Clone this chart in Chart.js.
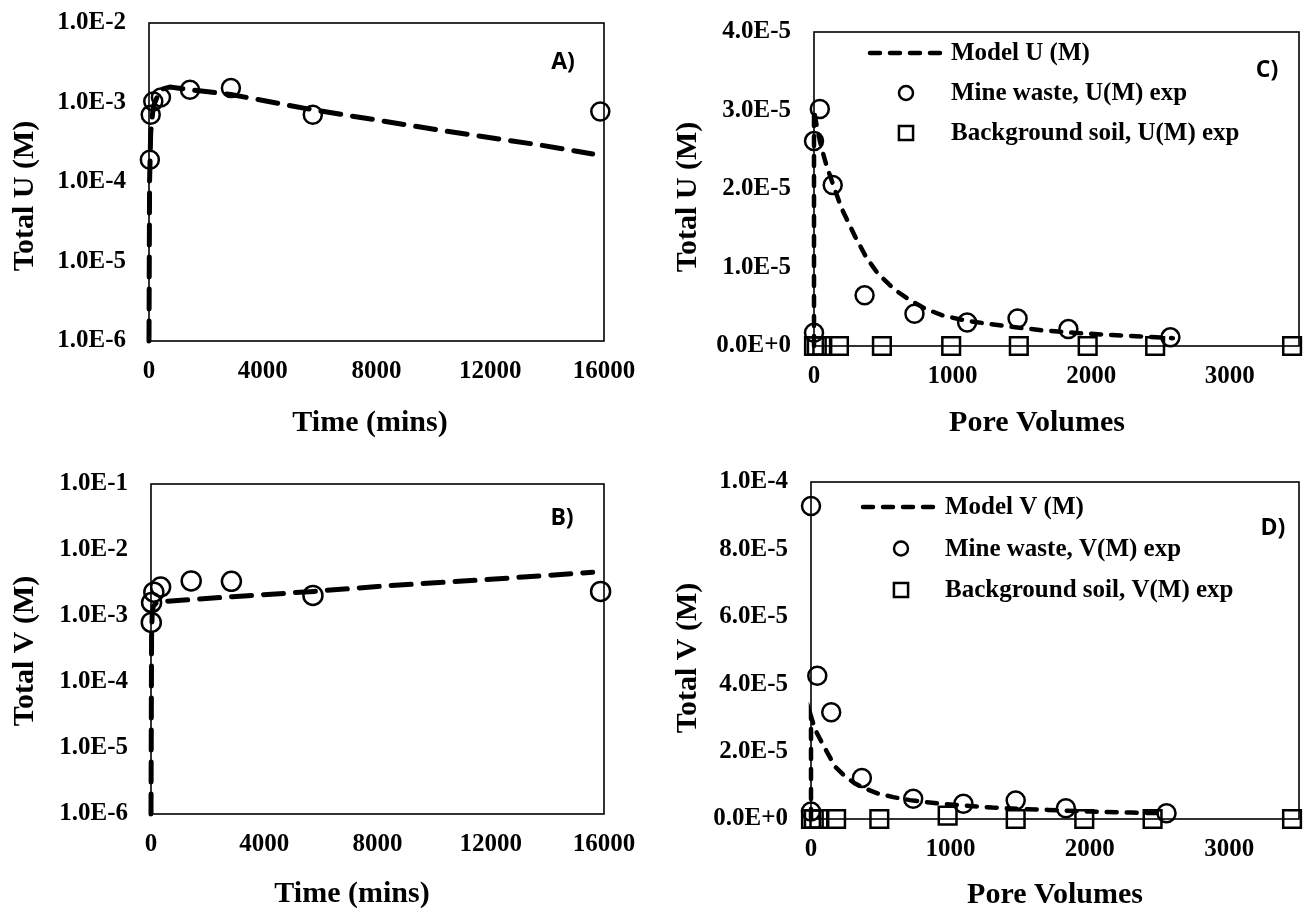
<!DOCTYPE html>
<html><head><meta charset="utf-8">
<script src="https://cdn.jsdelivr.net/npm/chart.js@4.4.1/dist/chart.umd.min.js"></script>
<style>
html,body{margin:0;padding:0;background:#fff;}
#wrap{position:relative;width:1314px;height:908px;overflow:hidden;background:#fff;}
canvas{position:absolute;}
</style></head><body>
<div id="wrap">
<canvas id="cA" width="657" height="454" style="left:0;top:0"></canvas>
<canvas id="cB" width="657" height="454" style="left:0;top:454px"></canvas>
<canvas id="cC" width="657" height="454" style="left:657px;top:0"></canvas>
<canvas id="cD" width="657" height="454" style="left:657px;top:454px"></canvas>
</div>
<script>
// ---------- Panel A: Total U vs time ----------
const aTimeTicks = [0, 4000, 8000, 12000, 16000];
const aYTicks = [1e-6, 1e-5, 1e-4, 1e-3, 1e-2];
const aModelTime = [0, 20, 60, 150, 390, 740, 1440, 2880, 5760, 10200, 13800, 15600];
const aModelU = [1e-6, 1.0e-4, 4.2e-4, 8.9e-4, 1.45e-3, 1.57e-3, 1.45e-3, 1.26e-3, 8.1e-4, 4.5e-4, 2.9e-4, 2.25e-4];
const aExpTime = [30, 60, 150, 420, 1440, 2880, 5760, 15870];
const aExpU = [1.9e-4, 7.0e-4, 1.03e-3, 1.16e-3, 1.45e-3, 1.52e-3, 7.0e-4, 7.7e-4];

// ---------- Panel B: Total V vs time ----------
const bTimeTicks = [0, 4000, 8000, 12000, 16000];
const bYTicks = [1e-6, 1e-5, 1e-4, 1e-3, 1e-2, 1e-1];
const bModelTime = [0, 20, 40, 80, 200, 435, 2880, 5760, 8000, 12000, 15600];
const bModelV = [1e-6, 5.0e-4, 1.0e-3, 1.4e-3, 1.6e-3, 1.66e-3, 1.96e-3, 2.36e-3, 2.8e-3, 3.6e-3, 4.6e-3];
const bExpTime = [10, 20, 100, 340, 1420, 2840, 5720, 15880];
const bExpV = [8.0e-4, 1.6e-3, 2.3e-3, 2.75e-3, 3.4e-3, 3.35e-3, 2.05e-3, 2.36e-3];

// ---------- Panel C: Total U vs pore volumes ----------
const cPVTicks = [0, 1000, 2000, 3000];
const cYTicks = [0, 1e-5, 2e-5, 3e-5, 4e-5];
const cModelPV = [0, 0, 20, 50, 90, 135, 200, 298, 380, 462, 580, 695, 810, 929, 1050, 1162, 1400, 1650, 1900, 2150, 2380, 2590];
const cModelU = [0, 3.0e-5, 2.8e-5, 2.55e-5, 2.3e-5, 2.07e-5, 1.75e-5, 1.39e-5, 1.12e-5, 9.2e-6, 7.2e-6, 5.8e-6, 4.7e-6, 3.9e-6, 3.4e-6, 3.06e-6, 2.5e-6, 2.0e-6, 1.65e-6, 1.4e-6, 1.2e-6, 1.0e-6];
const cMinePV = [0, 0, 42, 135, 365, 725, 1105, 1469, 1836, 2572];
const cMineU = [1.7e-6, 2.61e-5, 3.02e-5, 2.05e-5, 6.45e-6, 4.1e-6, 3.0e-6, 3.5e-6, 2.15e-6, 1.1e-6];
const cSoilPV = [0, 20, 60, 180, 490, 990, 1478, 1975, 2462, 3450];
const cSoilU = [0, 0, 0, 0, 0, 0, 0, 0, 0, 0];

// ---------- Panel D: Total V vs pore volumes ----------
const dPVTicks = [0, 1000, 2000, 3000];
const dYTicks = [0, 2e-5, 4e-5, 6e-5, 8e-5, 1e-4];
const dModelPV = [0, 0, 30, 80, 173, 240, 313, 390, 476, 590, 709, 820, 943, 1100, 1300, 1500, 1700, 2000, 2300, 2550];
const dModelV = [0, 3.05e-5, 2.65e-5, 2.25e-5, 1.55e-5, 1.28e-5, 1.06e-5, 9.0e-6, 7.6e-6, 6.5e-6, 5.6e-6, 5.0e-6, 4.5e-6, 4.0e-6, 3.4e-6, 3.0e-6, 2.7e-6, 2.2e-6, 1.9e-6, 1.7e-6];
const dMinePV = [0, 0, 45, 145, 365, 733, 1093, 1468, 1828, 2550];
const dMineV = [2.2e-6, 9.29e-5, 4.25e-5, 3.17e-5, 1.22e-5, 6.0e-6, 4.5e-6, 5.5e-6, 3.2e-6, 1.7e-6];
const dSoilPV = [0, 20, 60, 180, 490, 980, 1468, 1960, 2450, 3450];
const dSoilV = [0, 0, 0, 0, 0, 1.0e-6, 0, 0, 0, 0];

// ---------- helpers ----------
const SERIF = '"Liberation Serif", "Times New Roman", serif';
const pts = (xs, ys) => xs.map((x, i) => ({x: x, y: ys[i]}));
const sci = v => Number(v).toExponential(1).toUpperCase();

const deco = {
  id: 'deco',
  beforeDatasetsDraw(chart) {
    const {ctx, chartArea: a} = chart;
    ctx.save();
    ctx.strokeStyle = '#000';
    ctx.lineWidth = 1.6;
    ctx.strokeRect(a.left, a.top, a.right - a.left, a.bottom - a.top);
    ctx.restore();
  },
  afterDraw(chart, args, o) {
    const ctx = chart.ctx;
    ctx.save();
    ctx.fillStyle = '#000';
    ctx.textAlign = 'center';
    ctx.textBaseline = 'middle';
    ctx.font = 'bold 30px ' + SERIF;
    ctx.save();
    ctx.translate(o.yTitle.x, o.yTitle.y);
    ctx.rotate(-Math.PI / 2);
    ctx.fillText(o.yTitle.text, 0, 0);
    ctx.restore();
    ctx.fillText(o.xTitle.text, o.xTitle.x, o.xTitle.y);
    ctx.font = 'bold 23px "Open Sans", "Liberation Sans", sans-serif';
    ctx.fillText(o.letter.text, o.letter.x, o.letter.y);
    if (o.legend) {
      const L = o.legend;
      ctx.font = 'bold 25px ' + SERIF;
      ctx.textAlign = 'left';
      L.rows.forEach((r, i) => {
        const ds = chart.data.datasets[r.ds];
        const y = L.y0 + i * L.dy;
        if (r.kind === 'line') {
          ctx.save();
          ctx.strokeStyle = ds.borderColor;
          ctx.lineWidth = ds.borderWidth;
          ctx.lineCap = ds.borderCapStyle || 'butt';
          ctx.setLineDash(ds.borderDash || []);
          ctx.beginPath();
          ctx.moveTo(L.lineX0, y);
          ctx.lineTo(L.lineX1, y);
          ctx.stroke();
          ctx.restore();
        } else {
          ctx.save();
          ctx.strokeStyle = ds.pointBorderColor;
          ctx.fillStyle = 'rgba(0,0,0,0)';
          ctx.lineWidth = ds.pointBorderWidth;
          const opts = {pointStyle: ds.pointStyle, radius: r.radius, borderWidth: ds.pointBorderWidth, rotation: 0};
          if (Chart.helpers && Chart.helpers.drawPoint) {
            Chart.helpers.drawPoint(ctx, opts, L.markX, y);
          } else {
            ctx.beginPath();
            if (ds.pointStyle === 'rect') { const h = r.radius * Math.SQRT1_2; ctx.rect(L.markX - h, y - h, 2 * h, 2 * h); }
            else ctx.arc(L.markX, y, r.radius, 0, Math.PI * 2);
            ctx.stroke();
          }
          ctx.restore();
        }
        ctx.fillStyle = '#000';
        ctx.fillText(ds.label, L.textX, y + 1);
      });
    }
    ctx.restore();
  }
};

function lineDs(label, data, width, dash) {
  return {label: label, data: data, showLine: true, borderColor: '#000', borderWidth: width,
    borderDash: dash, borderCapStyle: 'round', pointRadius: 0, tension: 0, clip: false, fill: false};
}
function markDs(label, data, style, radius) {
  return {label: label, data: data, showLine: false, pointStyle: style, pointRadius: radius,
    pointBorderWidth: 2.5, pointBorderColor: '#000', pointBackgroundColor: 'rgba(0,0,0,0)',
    borderColor: '#000', backgroundColor: 'rgba(0,0,0,0)', clip: false};
}

function makeChart(id, cfg) {
  const tickFont = {family: SERIF, size: 25, weight: 'bold'};
  new Chart(document.getElementById(id), {
    type: 'scatter',
    data: {datasets: cfg.datasets},
    plugins: [deco],
    options: {
      responsive: false,
      animation: false,
      devicePixelRatio: 1,
      events: [],
      layout: {padding: cfg.padding},
      plugins: {legend: {display: false}, tooltip: {enabled: false}, deco: cfg.deco},
      scales: {
        x: {
          type: 'linear', min: cfg.xMin, max: cfg.xMax,
          afterBuildTicks: s => { s.ticks = cfg.xTicks.map(v => ({value: v})); },
          afterFit: s => { s.height = cfg.xHeight; s.paddingLeft = 0; s.paddingRight = 0; },
          grid: {display: false, drawTicks: false}, border: {display: false},
          ticks: {padding: cfg.xPad, maxRotation: 0, minRotation: 0, autoSkip: false, color: '#000', font: tickFont,
            callback: v => String(v)}
        },
        y: {
          type: cfg.yType, min: cfg.yMin, max: cfg.yMax,
          afterBuildTicks: s => { s.ticks = cfg.yTicks.map(v => ({value: v})); },
          afterFit: s => { s.width = cfg.yWidth; s.paddingTop = 0; s.paddingBottom = 0; },
          grid: {display: false, drawTicks: false}, border: {display: false},
          ticks: {padding: 23, autoSkip: false, color: '#000', font: tickFont, callback: v => sci(v)}
        }
      }
    }
  });
}

makeChart('cA', {
  datasets: [
    lineDs('Model U (M)', pts(aModelTime, aModelU), 5, [20, 12]),
    markDs('Mine waste, U(M) exp', pts(aExpTime, aExpU), 'circle', 9)
  ],
  padding: {left: 0, top: 23, right: 53, bottom: 0},
  xMin: 0, xMax: 16000, xTicks: aTimeTicks, xHeight: 113, xPad: 16,
  yType: 'logarithmic', yMin: 1e-6, yMax: 1e-2, yTicks: aYTicks, yWidth: 149,
  deco: {yTitle: {text: 'Total U (M)', x: 25, y: 196}, xTitle: {text: 'Time (mins)', x: 370, y: 423},
         letter: {text: 'A)', x: 563, y: 62}}
});

makeChart('cB', {
  datasets: [
    lineDs('Model V (M)', pts(bModelTime, bModelV), 5, [20, 12]),
    markDs('Mine waste, V(M) exp', pts(bExpTime, bExpV), 'circle', 9.5)
  ],
  padding: {left: 0, top: 30, right: 53, bottom: 0},
  xMin: 0, xMax: 16000, xTicks: bTimeTicks, xHeight: 94, xPad: 16,
  yType: 'logarithmic', yMin: 1e-6, yMax: 1e-1, yTicks: bYTicks, yWidth: 151,
  deco: {yTitle: {text: 'Total V (M)', x: 25, y: 197}, xTitle: {text: 'Time (mins)', x: 352, y: 440},
         letter: {text: 'B)', x: 562, y: 64}}
});

makeChart('cC', {
  datasets: [
    lineDs('Model U (M)', pts(cModelPV, cModelU), 4.5, [10, 10]),
    markDs('Mine waste, U(M) exp', pts(cMinePV, cMineU), 'circle', 9),
    markDs('Background soil, U(M) exp', pts(cSoilPV, cSoilU), 'rect', 12.5)
  ],
  padding: {left: 0, top: 32, right: 1, bottom: 0},
  xMin: 0, xMax: 3500, xTicks: cPVTicks, xHeight: 108, xPad: 16,
  yType: 'linear', yMin: 0, yMax: 4e-5, yTicks: cYTicks, yWidth: 157,
  deco: {yTitle: {text: 'Total U (M)', x: 31, y: 197}, xTitle: {text: 'Pore Volumes', x: 380, y: 423},
         letter: {text: 'C)', x: 610, y: 70},
         legend: {lineX0: 213, lineX1: 287, markX: 249, textX: 294, y0: 53, dy: 40,
                  rows: [{ds: 0, kind: 'line'}, {ds: 1, kind: 'mark', radius: 7}, {ds: 2, kind: 'mark', radius: 10}]}}
});

makeChart('cD', {
  datasets: [
    lineDs('Model V (M)', pts(dModelPV, dModelV), 4.5, [10, 10]),
    markDs('Mine waste, V(M) exp', pts(dMinePV, dMineV), 'circle', 9),
    markDs('Background soil, V(M) exp', pts(dSoilPV, dSoilV), 'rect', 12.5)
  ],
  padding: {left: 0, top: 28, right: 3, bottom: 0},
  xMin: 0, xMax: 3500, xTicks: dPVTicks, xHeight: 89, xPad: 16,
  yType: 'linear', yMin: 0, yMax: 1e-4, yTicks: dYTicks, yWidth: 154,
  deco: {yTitle: {text: 'Total V (M)', x: 31, y: 204}, xTitle: {text: 'Pore Volumes', x: 398, y: 441},
         letter: {text: 'D)', x: 616, y: 74},
         legend: {lineX0: 206, lineX1: 282, markX: 244, textX: 288, y0: 53, dy: 41.5,
                  rows: [{ds: 0, kind: 'line'}, {ds: 1, kind: 'mark', radius: 7}, {ds: 2, kind: 'mark', radius: 10}]}}
});
</script>
</body></html>
